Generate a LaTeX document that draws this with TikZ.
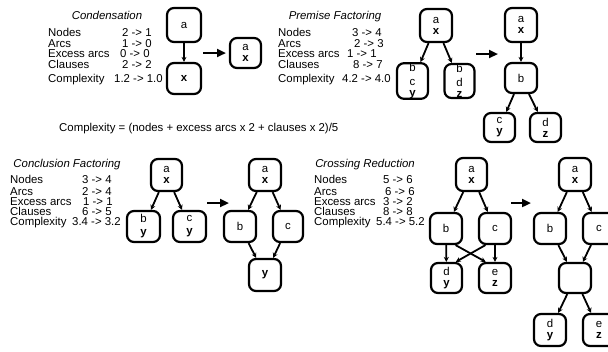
\documentclass[tikz,border=0pt]{standalone}
\usepackage{fontspec}
\setmainfont{Liberation Sans}
\usetikzlibrary{arrows.meta}
\newcommand{\txtsize}{\fontsize{11.4}{11}\selectfont}
\begin{document}
\begin{tikzpicture}[x=1pt,y=-1pt,
  box/.style={draw, line width=2.2pt, rounded corners=7pt, inner sep=0pt,
    align=center, font=\txtsize},
  sz/.style 2 args={minimum width=#1pt, minimum height=#2pt},
  arr/.style={line width=1.8pt, -{Stealth[length=5pt,width=5pt]}},
  bigarr/.style={line width=2.6pt, -{Triangle[length=9pt,width=8pt]}},
  lbl/.style={anchor=base west, inner sep=0pt, font=\txtsize},
  ttl/.style={anchor=base, inner sep=0pt, font=\txtsize\itshape}]
\useasboundingbox (0,0) rectangle (608,351);

% ---------- Condensation ----------
\node[ttl] (t1) at (107,19) {Condensation};
\node[lbl] (l1a) at (48,36)   {Nodes};
\node[lbl] (l1b) at (48,47.3) {Arcs};
\node[lbl] (l1c) at (48,57.3) {Excess arcs};
\node[lbl] (l1d) at (48,68.5) {Clauses};
\node[lbl] (l1e) at (48,82.3) {Complexity};
\node[lbl] (v1a) at (122,36)   {2 -> 1};
\node[lbl] (v1b) at (122,47.3) {1 -> 0};
\node[lbl] (v1c) at (120,57.3) {0 -> 0};
\node[lbl] (v1d) at (122,68.5) {2 -> 2};
\node[lbl] (v1e) at (114,82.3) {1.2 -> 1.0};

\node[box, sz={34}{34}] (ca)  at (184,25)    {a};
\node[box, sz={34}{31}] (cx)  at (184,78.5)  {\textbf{x}};
\node[box, sz={31}{30}] (cax) at (245.5,53)  {a\\\textbf{x}};
\draw[arr] (ca) -- (cx);
\coordinate (c1s) at (203,53);
\coordinate (c1e) at (226,53);
\draw[bigarr] (c1s) -- (c1e);

% ---------- Premise Factoring ----------
\node[ttl] (t2) at (335,19) {Premise Factoring};
\node[lbl] (l2a) at (278,36)   {Nodes};
\node[lbl] (l2b) at (278,47.3) {Arcs};
\node[lbl] (l2c) at (278,57.3) {Excess arcs};
\node[lbl] (l2d) at (278,68.5) {Clauses};
\node[lbl] (l2e) at (278,82.3) {Complexity};
\node[lbl] (v2a) at (352,36)   {3 -> 4};
\node[lbl] (v2b) at (354,47.3) {2 -> 3};
\node[lbl] (v2c) at (347,57.3) {1 -> 1};
\node[lbl] (v2d) at (353,68.5) {8 -> 7};
\node[lbl] (v2e) at (342,82.3) {4.2 -> 4.0};

\node[box, sz={32}{33}] (pa)  at (436,25.5)  {a\\\textbf{x}};
\node[box, sz={31}{34}] (pbc) at (412.5,81)  {b\\[3pt]c\\\textbf{y}};
\node[box, sz={30}{34}] (pbd) at (459.5,81)  {b\\[3pt]d\\\textbf{z}};
\draw[arr] (pa) -- (pbc);
\draw[arr] (pa) -- (pbd);
\coordinate (c2s) at (476,54);
\coordinate (c2e) at (498,54);
\draw[bigarr] (c2s) -- (c2e);
\node[box, sz={32}{34}] (qa) at (521,25)      {a\\\textbf{x}};
\node[box, sz={32}{30}] (qb) at (521,78)      {b};
\node[box, sz={31}{29}] (qc) at (499.5,127.5) {c\\\textbf{y}};
\node[box, sz={31}{29}] (qd) at (545.5,127.5) {d\\\textbf{z}};
\draw[arr] (qa) -- (qb);
\draw[arr] (qb) -- (qc);
\draw[arr] (qb) -- (qd);

% ---------- complexity measure ----------
\node[lbl] (formula) at (59,131)
  {Complexity = (nodes + excess arcs x 2 + clauses x 2)/5};

% ---------- Conclusion Factoring ----------
\node[ttl] (t3) at (67,167) {Conclusion Factoring};
\node[lbl] (l3a) at (10,183) {Nodes};
\node[lbl] (l3b) at (10,195) {Arcs};
\node[lbl] (l3c) at (10,205) {Excess arcs};
\node[lbl] (l3d) at (10,215) {Clauses};
\node[lbl] (l3e) at (10,225) {Complexity};
\node[lbl] (v3a) at (82,183) {3 -> 4};
\node[lbl] (v3b) at (82,195) {2 -> 4};
\node[lbl] (v3c) at (83,205) {1 -> 1};
\node[lbl] (v3d) at (82,215) {6 -> 5};
\node[lbl] (v3e) at (72,225) {3.4 -> 3.2};

\node[box, sz={31}{32}] (fa) at (166.5,175)   {a\\\textbf{x}};
\node[box, sz={33}{31}] (fb) at (143.5,226.5) {b\\[2pt]\textbf{y}};
\node[box, sz={33}{31}] (fc) at (189.5,226.5) {c\\[2pt]\textbf{y}};
\draw[arr] (fa) -- (fb);
\draw[arr] (fa) -- (fc);
\coordinate (c3s) at (207,203);
\coordinate (c3e) at (229,203);
\draw[bigarr] (c3s) -- (c3e);
\node[box, sz={32}{32}] (ga) at (265,175)   {a\\\textbf{x}};
\node[box, sz={32}{31}] (gb) at (240,226.5) {b};
\node[box, sz={30}{31}] (gc) at (288,226.5) {c};
\node[box, sz={32}{32}] (gy) at (265,275)   {\textbf{y}};
\draw[arr] (ga) -- (gb);
\draw[arr] (ga) -- (gc);
\draw[arr] (gb) -- (gy);
\draw[arr] (gc) -- (gy);

% ---------- Crossing Reduction ----------
\node[ttl] (t4) at (365,167) {Crossing Reduction};
\node[lbl] (l4a) at (314,183) {Nodes};
\node[lbl] (l4b) at (314,195) {Arcs};
\node[lbl] (l4c) at (314,205) {Excess arcs};
\node[lbl] (l4d) at (314,215) {Clauses};
\node[lbl] (l4e) at (314,225) {Complexity};
\node[lbl] (v4a) at (383,183) {5 -> 6};
\node[lbl] (v4b) at (385,195) {6 -> 6};
\node[lbl] (v4c) at (383,205) {3 -> 2};
\node[lbl] (v4d) at (383,215) {8 -> 8};
\node[lbl] (v4e) at (376,225) {5.4 -> 5.2};

\node[box, sz={31}{33}] (ra) at (471.5,174.5) {a\\\textbf{x}};
\node[box, sz={32}{31}] (rb) at (446,228.5)   {b};
\node[box, sz={32}{31}] (rc) at (495,228.5)   {c};
\node[box, sz={31}{30}] (rd) at (446.5,278)   {d\\\textbf{y}};
\node[box, sz={32}{30}] (re) at (495,278)     {e\\\textbf{z}};
\draw[arr] (ra) -- (rb);
\draw[arr] (ra) -- (rc);
\draw[arr] (rb) -- (rd);
\draw[arr] (rc) -- (re);
\draw[arr] (rb.-60) -- (re.120);
\draw[arr] (rc.-120) -- (rd.60);
\coordinate (c4s) at (511,203);
\coordinate (c4e) at (531,203);
\draw[bigarr] (c4s) -- (c4e);
\node[box, sz={32}{33}] (sa) at (575,174.5) {a\\\textbf{x}};
\node[box, sz={32}{31}] (sb) at (550,228.5) {b};
\node[box, sz={32}{31}] (sc) at (599,228.5) {c};
\node[box, sz={32}{30}] (sm) at (575,278)   {};
\node[box, sz={32}{32}] (sd) at (550,330)   {d\\\textbf{y}};
\node[box, sz={32}{32}] (se) at (599,330)   {e\\\textbf{z}};
\draw[arr] (sa) -- (sb);
\draw[arr] (sa) -- (sc);
\draw[arr] (sb) -- (sm);
\draw[arr] (sc) -- (sm);
\draw[arr] (sm) -- (sd);
\draw[arr] (sm) -- (se);
\end{tikzpicture}
\end{document}
